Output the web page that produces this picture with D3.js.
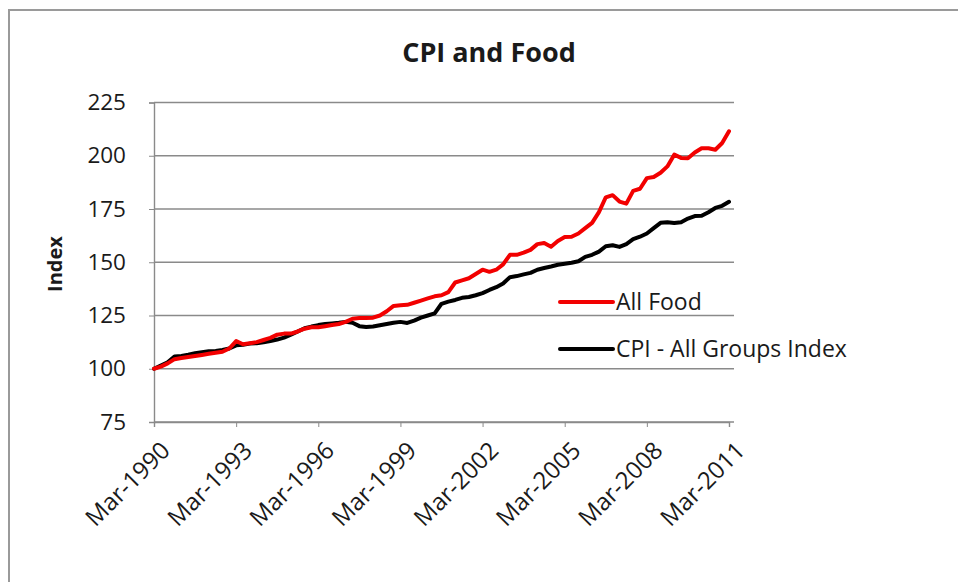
<!DOCTYPE html>
<html>
<head>
<meta charset="utf-8">
<script src="https://cdn.jsdelivr.net/npm/d3@7/dist/d3.min.js"></script>
<style>
  body { margin: 0; background: #fff; }
  text { font-family: "Open Sans", "DejaVu Sans", sans-serif; fill: #1a1a1a; }
</style>
</head>
<body>
<div id="chart"></div>
<script>
// quarterly, Mar-1990 .. Mar-2011
const tickLabels = ["Mar-1990", "Mar-1993", "Mar-1996", "Mar-1999", "Mar-2002", "Mar-2005", "Mar-2008", "Mar-2011"];
const yTicks = [75, 100, 125, 150, 175, 200, 225];

const allFood = [
  100, 101, 102.5, 104.5, 105, 105.5, 106, 106.5, 107, 107.5,
  108, 109.5, 113, 111.5, 112, 112.5, 113.5, 114.5, 116, 116.5,
  116.5, 117.5, 118.8, 119.5, 119.5, 120, 120.5, 121, 122, 123.5,
  123.8, 123.8, 124, 125, 127, 129.5, 129.8, 130, 131, 132,
  133, 134, 134.5, 136, 140.5, 141.5, 142.5, 144.5, 146.5, 145.5,
  146.5, 149, 153.5, 153.5, 154.5, 155.8, 158.5, 159, 157.3, 160,
  161.8, 162, 163.5, 166, 168.5, 173.5, 180.5, 181.5, 178.5, 177.5,
  183.5, 184.5, 189.5, 190, 192, 195, 200.5, 199, 198.8, 201.5,
  203.5, 203.5, 202.8, 206, 211.5
];

const cpiAll = [
  100, 101.5, 103, 105.8, 106, 106.6, 107.3, 107.8, 108.2, 108.3,
  108.8, 109.5, 111, 111.3, 111.8, 112, 112.4, 113, 113.7, 114.6,
  116, 117.5, 119, 119.8, 120.5, 121, 121.3, 121.6, 122, 121.6,
  120, 119.6, 119.8, 120.4, 121, 121.6, 122, 121.5, 122.6, 124,
  125, 126, 130.5, 131.5, 132.3, 133.3, 133.7, 134.5, 135.5, 137,
  138.3, 140, 143, 143.5, 144.3, 145, 146.5, 147.3, 148, 148.8,
  149.3, 149.8, 150.5, 152.5, 153.5, 155, 157.5, 158, 157.2, 158.5,
  160.8, 162, 163.5, 166, 168.5, 168.8, 168.4, 168.8, 170.5, 171.7,
  171.8, 173.5, 175.5, 176.5, 178.4
];

const seriesNames = ["All Food", "CPI - All Groups Index"];
const seriesColors = ["#f20000", "#000000"];

const W = 958, H = 582;

const svg = d3.select("#chart")
  .append("svg")
  .attr("width", W)
  .attr("height", H);

// chart frame
svg.append("rect")
  .attr("x", 9).attr("y", 10)
  .attr("width", 1000).attr("height", 700)
  .attr("fill", "none")
  .attr("stroke", "#9a9a9a")
  .attr("stroke-width", 2);

const x = d3.scaleLinear()
  .domain([0, allFood.length - 1])
  .range([154, 729]);

const y = d3.scaleLinear()
  .domain([75, 225])
  .range([422, 102.5]);

// gridlines
svg.append("g")
  .selectAll("line")
  .data(yTicks)
  .enter().append("line")
  .attr("x1", 154).attr("x2", 734)
  .attr("y1", d => y(d)).attr("y2", d => y(d))
  .attr("stroke", "#8a8a8a")
  .attr("stroke-width", 1.4);

// y axis
const yAxis = svg.append("g")
  .attr("transform", "translate(154,0)")
  .call(d3.axisLeft(y).tickValues(yTicks).tickSize(5).tickPadding(23));
yAxis.select(".domain").attr("stroke", "#8a8a8a").attr("stroke-width", 1.4);
yAxis.selectAll(".tick line").attr("stroke", "#8a8a8a");
yAxis.selectAll(".tick text")
  .attr("font-size", 22.5)
  .attr("font-family", "Open Sans")
  .attr("fill", "#1a1a1a");

// x axis
const tickIdx = tickLabels.map((d, i) => i * 12);
const xAxis = svg.append("g")
  .attr("transform", "translate(0,422)")
  .call(d3.axisBottom(x).tickValues(tickIdx).tickSize(5).tickFormat((d, i) => tickLabels[i]));
xAxis.select(".domain").attr("stroke", "#8a8a8a").attr("stroke-width", 1.4);
xAxis.selectAll(".tick line").attr("stroke", "#8a8a8a");
xAxis.selectAll(".tick text")
  .attr("font-size", 24)
  .attr("font-family", "Open Sans")
  .attr("fill", "#1a1a1a")
  .attr("text-anchor", "end")
  .attr("y", 0)
  .attr("dy", "0.35em")
  .attr("transform", "translate(11,24) rotate(-45)");

// lines
const line = d3.line()
  .x((d, i) => x(i))
  .y(d => y(d));

[cpiAll, allFood].forEach((s, k) => {
  svg.append("path")
    .datum(s)
    .attr("fill", "none")
    .attr("stroke", k === 0 ? seriesColors[1] : seriesColors[0])
    .attr("stroke-width", 4)
    .attr("stroke-linejoin", "round")
    .attr("stroke-linecap", "round")
    .attr("d", line);
});

// title
svg.append("text")
  .attr("x", 489).attr("y", 62)
  .attr("text-anchor", "middle")
  .attr("font-size", 27)
  .attr("font-weight", "bold")
  .text("CPI and Food");

// y axis title
svg.append("text")
  .attr("transform", "translate(62,264) rotate(-90)")
  .attr("text-anchor", "middle")
  .attr("font-size", 20)
  .attr("font-weight", "bold")
  .text("Index");

// legend
const legend = svg.append("g")
  .selectAll("g")
  .data(seriesNames)
  .enter().append("g")
  .attr("transform", (d, i) => `translate(560,${302 + i * 47})`);

legend.append("line")
  .attr("x1", 0).attr("x2", 53)
  .attr("stroke", (d, i) => seriesColors[i])
  .attr("stroke-width", 4)
  .attr("stroke-linecap", "round");

legend.append("text")
  .attr("x", 56)
  .attr("dy", "0.35em")
  .attr("font-size", 23)
  .text(d => d);
</script>
</body>
</html>
